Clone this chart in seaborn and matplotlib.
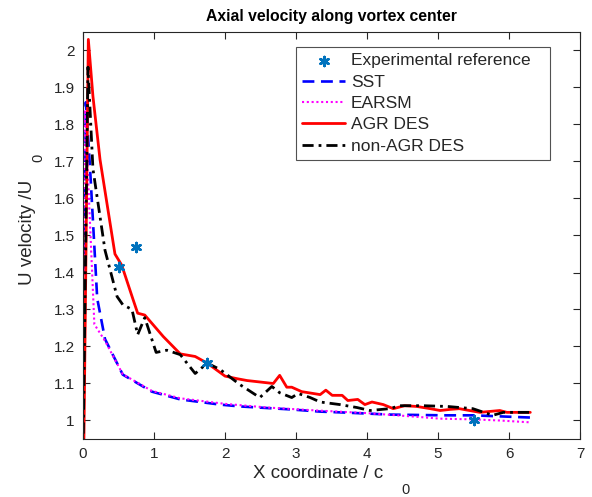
import matplotlib
matplotlib.use("Agg")
import matplotlib.pyplot as plt
import seaborn as sns

# Experimental reference points
exp_x = [0.5, 0.75, 1.75, 5.5]
exp_u = [1.416, 1.468, 1.155, 1.0]

# SST
sst_x = [0.0, 0.04, 0.1, 0.2, 0.31, 0.56, 0.97, 1.37, 1.93, 2.21, 2.92, 3.34, 3.62, 4.32, 5.07, 5.49, 6.3]
sst_u = [0.90, 1.86, 1.68, 1.33, 1.22, 1.124, 1.078, 1.057, 1.043, 1.038, 1.03, 1.024, 1.022, 1.016, 1.014, 1.014, 1.008]

# EARSM
earsm_x = [0.0, 0.03, 0.16, 0.31, 0.56, 0.97, 1.37, 2.0, 2.6, 3.3, 4.0, 4.7, 5.03, 5.5, 5.87, 6.3]
earsm_u = [0.90, 1.84, 1.26, 1.215, 1.125, 1.08, 1.06, 1.045, 1.035, 1.027, 1.02, 1.01, 1.005, 1.003, 1.0, 0.995]

# AGR DES
agr_x = [0.01, 0.075, 0.14, 0.24, 0.45, 0.545, 0.70, 0.77, 0.87, 1.13, 1.37, 1.58, 1.75, 2.0, 2.17,
         2.31, 2.45, 2.68, 2.77, 2.87, 2.94, 3.08, 3.34, 3.42, 3.51, 3.65, 3.73, 3.87, 3.97, 4.07,
         4.23, 4.37, 4.53, 4.7, 4.89, 5.03, 5.17, 5.3, 5.59, 5.87, 5.97, 6.3]
agr_u = [0.90, 2.03, 1.876, 1.705, 1.45, 1.42, 1.33, 1.29, 1.285, 1.227, 1.18, 1.173, 1.155, 1.12, 1.113,
         1.108, 1.105, 1.10, 1.122, 1.09, 1.09, 1.078, 1.07, 1.082, 1.068, 1.068, 1.054, 1.057, 1.043, 1.05,
         1.043, 1.032, 1.04, 1.038, 1.032, 1.027, 1.03, 1.032, 1.022, 1.027, 1.022, 1.022]

# non-AGR DES
nagr_x = [0.0, 0.07, 0.14, 0.31, 0.48, 0.56, 0.69, 0.77, 0.87, 1.03, 1.18, 1.37, 1.58, 1.75, 1.93, 2.21,
          2.49, 2.66, 2.77, 2.94, 3.03, 3.2, 3.34, 3.62, 3.86, 4.04, 4.32, 4.46, 4.79, 5.13, 5.49, 5.77,
          5.92, 6.3]
nagr_u = [0.90, 1.955, 1.68, 1.46, 1.335, 1.313, 1.30, 1.232, 1.278, 1.184, 1.19, 1.178, 1.127, 1.155,
          1.138, 1.097, 1.062, 1.092, 1.075, 1.062, 1.073, 1.062, 1.05, 1.043, 1.035, 1.027, 1.032, 1.04,
          1.04, 1.038, 1.032, 1.014, 1.022, 1.022]

x_ticks = [0, 1, 2, 3, 4, 5, 6, 7]
y_ticks = [1.0, 1.1, 1.2, 1.3, 1.4, 1.5, 1.6, 1.7, 1.8, 1.9, 2.0]
y_tick_labels = ["1", "1.1", "1.2", "1.3", "1.4", "1.5", "1.6", "1.7", "1.8", "1.9", "2"]

sns.set_theme(style="white")
plt.rcParams["font.family"] = ["Liberation Sans", "DejaVu Sans"]

W, H = 592, 497
fig = plt.figure(figsize=(W / 100, H / 100), dpi=100)
ax = fig.add_axes([83 / W, 1 - 439 / H, (580 - 83) / W, (439 - 32) / H])

sns.scatterplot(x=exp_x, y=exp_u, ax=ax, marker=(6, 2, 0), s=42, linewidth=1.9,
                color="#0072BD", edgecolor="#0072BD", label="Experimental reference", zorder=5)
sns.lineplot(x=sst_x, y=sst_u, ax=ax, sort=False, color="#0000FF", linewidth=1.9,
             linestyle=(0, (4.5, 2.5)), label="SST")
sns.lineplot(x=earsm_x, y=earsm_u, ax=ax, sort=False, color="#FF00FF", linewidth=1.5,
             linestyle=(0, (1, 1.3)), label="EARSM")
sns.lineplot(x=agr_x, y=agr_u, ax=ax, sort=False, color="#FF0000", linewidth=2.0,
             linestyle="-", label="AGR DES")
sns.lineplot(x=nagr_x, y=nagr_u, ax=ax, sort=False, color="#000000", linewidth=2.0,
             linestyle=(0, (4, 1.8, 1, 1.8)), label="non-AGR DES")

ax.set_xlim(0, 7)
ax.set_ylim(0.95, 2.05)
ax.set_xticks(x_ticks)
ax.set_xticklabels([str(t) for t in x_ticks])
ax.set_yticks(y_ticks)
ax.set_yticklabels(y_tick_labels)
ax.tick_params(direction="in", length=5, width=0.8, colors="#262626", labelsize=11,
               top=True, right=True, bottom=True, left=True, pad=6)
for s in ax.spines.values():
    s.set_visible(True)
    s.set_color("#262626")
    s.set_linewidth(0.8)
ax.set_xlabel("")
ax.set_ylabel("")

# Legend box stretched horizontally across a fixed span
leg_x0 = (296 - 83) / 497
leg_w = (550 - 296) / 497
leg = ax.legend(loc="upper left", bbox_to_anchor=(leg_x0, 0.0, leg_w, 0.963), mode="expand",
                fontsize=12.5, frameon=True, fancybox=False, edgecolor="#262626",
                handlelength=2.5, handletextpad=0.3, borderpad=0.35, labelspacing=0.36,
                borderaxespad=0)
leg.get_frame().set_linewidth(0.8)

# Title and axis labels with subscripts
fig.text(331 / W, 1 - 17 / H, "Axial velocity along vortex center", ha="center", va="center",
         fontsize=11.3, fontweight="bold", color="black")
fig.text(318 / W, 1 - 473 / H, "X coordinate / c", ha="center", va="center", fontsize=13.5,
         color="#262626")
fig.text(405 / W, 1 - 490 / H, "0", ha="center", va="center", fontsize=10.5, color="#262626")
fig.text(27 / W, 1 - 232 / H, "U velocity /U", ha="center", va="center", rotation=90,
         fontsize=13.5, color="#262626")
fig.text(38 / W, 1 - 158 / H, "0", ha="center", va="center", rotation=90, fontsize=10.5,
         color="#262626")

fig.savefig("out.png", dpi=100)
